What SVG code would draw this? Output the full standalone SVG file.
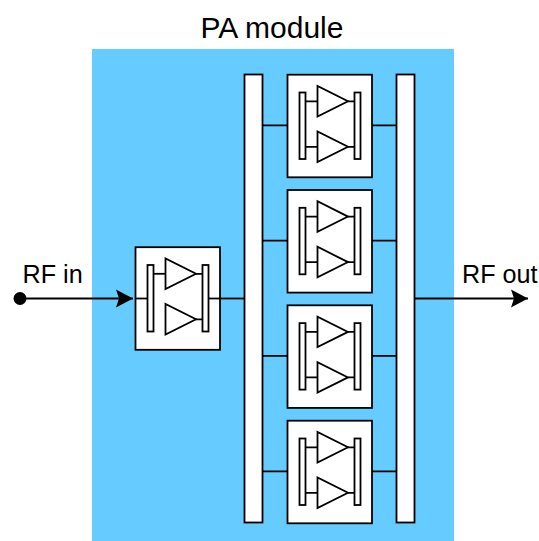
<svg xmlns="http://www.w3.org/2000/svg" width="539" height="541" viewBox="0 0 539 541">
<style>
text{font-family:"Liberation Sans",Arial,sans-serif;fill:#000}
.t{font-size:30px}.l{font-size:25.2px}
.b{fill:#fff;stroke:#000;stroke-width:1.8}
.w{fill:none;stroke:#000;stroke-width:1.8}
</style>
<defs>
<g id="amp">
<rect class="b" x="287.500" y="74.700" width="84.500" height="102.600"/>
<rect class="b" x="299.500" y="92.500" width="6" height="66.500"/>
<rect class="b" x="354.500" y="92.500" width="6" height="66.500"/>
<path class="b" d="M317.500 86V116.500L348 101.300Z"/>
<path class="b" d="M317.500 131.500V162L348 146.800Z"/>
<path class="w" d="M348 101.300H354.500M348 146.800H354.500"/>
</g>
<marker id="ah" markerUnits="userSpaceOnUse" markerWidth="20" markerHeight="20" refX="18" refY="10" orient="auto"><path d="M1 1L18 10L1 19L4 10Z" fill="#000"/></marker>
</defs>
<rect x="92" y="49" width="362" height="492" fill="#66ccff"/>
<text class="t" x="272" y="38" text-anchor="middle">PA module</text>
<rect class="b" x="244.500" y="74.500" width="18" height="448"/>
<rect class="b" x="396.500" y="74.500" width="18" height="448"/>
<g id="connectors">
<path class="w" d="M20 298.500H133" marker-end="url(#ah)"/>
<path class="w" d="M220 298.500H244.500"/>
<path class="w" d="M415 298.500H528" marker-end="url(#ah)"/>
<path class="w" d="M262.500 125.300H299.500M360.500 125.300H396.500M262.500 240.600H299.500M360.500 240.600H396.500M262.500 355.900H299.500M360.500 355.900H396.500M262.500 471.300H299.500M360.500 471.300H396.500"/>
</g>
<circle cx="20" cy="298.500" r="6.500" fill="#000"/>
<g id="input-amp">
<use href="#amp" transform="translate(-152 172.500)"/>
<path class="w" d="M153.500 273.800H165.500"/>
<path class="w" d="M135 298.500H147.500"/>
<path class="w" d="M208.500 298.500H220"/>
</g>
<g id="amp-1"><use href="#amp"/><path class="w" d="M305.500 101.300H317.500M305.500 146.800H317.500"/></g>
<g id="amp-2"><use href="#amp" transform="translate(0 115.300)"/><path class="w" d="M305.500 216.600H317.500M305.500 262.100H317.500"/></g>
<g id="amp-3"><use href="#amp" transform="translate(0 230.600)"/><path class="w" d="M305.500 331.900H317.500M305.500 377.400H317.500"/></g>
<g id="amp-4"><use href="#amp" transform="translate(0 346)"/><path class="w" d="M305.500 447.300H317.500M305.500 492.800H317.500"/></g>
<text class="l" x="22.500" y="283">RF in</text>
<text class="l" x="462" y="283">RF out</text>
</svg>
